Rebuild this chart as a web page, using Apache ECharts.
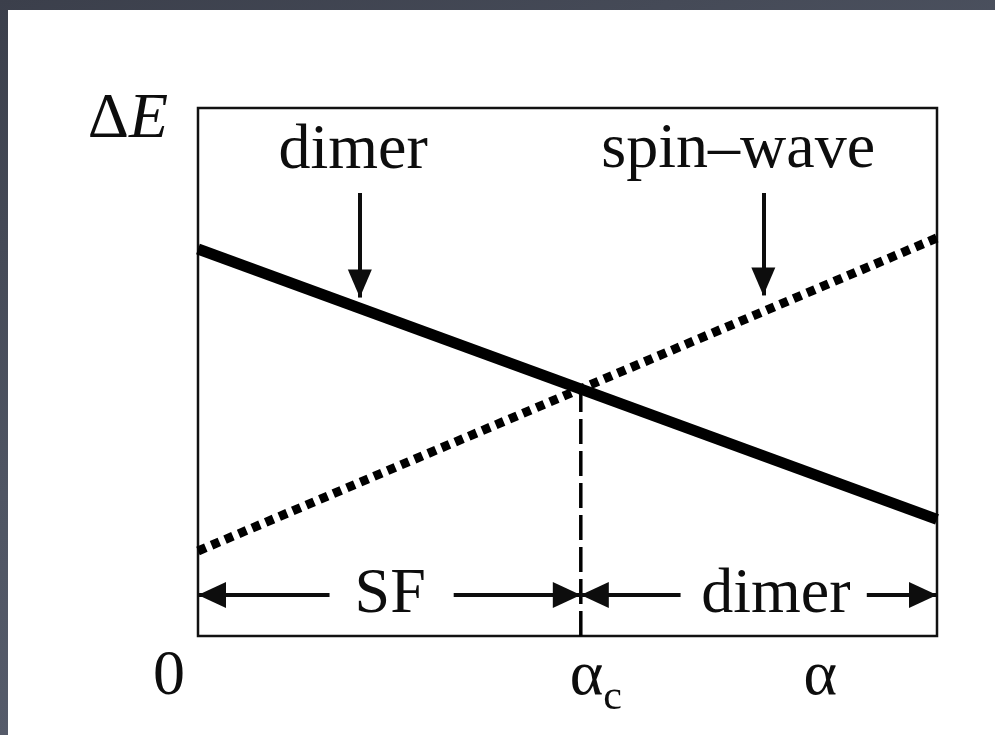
<!DOCTYPE html>
<html>
<head>
<meta charset="utf-8">
<script src="https://cdn.jsdelivr.net/npm/echarts@6/dist/echarts.min.js"></script>
<style>
  html, body { margin: 0; padding: 0; width: 995px; height: 735px; overflow: hidden; }
  body { background: linear-gradient(160deg, #3b3f4b 0%, #4f5563 45%, #5e6474 100%); position: relative; }
  #chart { position: absolute; left: 8px; top: 10px; width: 987px; height: 725px; background: #ffffff; }
</style>
</head>
<body>
<div id="chart"></div>
<script>
// Energy gap versus coupling alpha: dimer branch falls, spin-wave branch rises.
const dimerLine = [[0, 0.733], [1, 0.221]];
const spinWaveLine = [[0, 0.161], [1, 0.754]];

// Critical coupling, where the two branches cross
const alphaC = 0.518;

// Tick labels along the alpha axis
const tickValues = [0, alphaC, 0.842];
const tickLabels = ['0', 'αc', 'α'];

// Branch labels with their pointer arrows (x, label y, arrow top y, arrow tip y)
const branchNames = ['dimer', 'spin–wave'];
const branchLabelX = [0.210, 0.731];
const branchLabelY = [0.919, 0.921];
const branchArrowX = [0.219, 0.765];
const branchArrowTop = [0.839, 0.839];
const branchArrowTip = [0.641, 0.645];

// Phase regions below the curves
const phaseNames = ['SF', 'dimer'];
const phaseCenters = [0.260, 0.782];
const phaseRowY = 0.0775;
const phaseArrowSegments = [[0, 0.178], [0.346, alphaC], [alphaC, 0.653], [0.905, 1]];

// Height of the crossing point at alphaC, taken from the solid branch
function valueAt(line, x) {
  const [p0, p1] = line;
  return p0[1] + (p1[1] - p0[1]) * (x - p0[0]) / (p1[0] - p0[0]);
}
const crossY = valueAt(dimerLine, alphaC);

const serif = 'Liberation Serif, Times New Roman, serif';
const ink = '#0d0d0d';

const tickRich = {
  zero: { fontFamily: serif, fontSize: 64, color: ink, padding: [0, 58, 0, 0] },
  a: { fontFamily: serif, fontSize: 64, color: ink },
  ac: { fontFamily: serif, fontSize: 64, color: ink, padding: [0, 0, 0, 30] },
  sub: { fontFamily: serif, fontSize: 42, color: ink, verticalAlign: 'bottom', padding: [0, 0, -10, 0] }
};

const arrowStyle = { color: ink, width: 4, type: 'solid', opacity: 1 };

const markLines = [];
// pointer arrows from branch labels down to the curves
branchArrowX.forEach((x, i) => {
  markLines.push([
    { coord: [x, branchArrowTop[i]], symbol: 'none' },
    { coord: [x, branchArrowTip[i]], symbol: 'triangle', symbolSize: [24, 28], symbolOffset: [0, 14] }
  ]);
});
// region arrows
phaseArrowSegments.forEach((seg, i) => {
  const tipAtStart = (i % 2 === 0);
  markLines.push([
    { coord: [seg[0], phaseRowY], symbol: tipAtStart ? 'triangle' : 'none', symbolSize: [26, 28], symbolOffset: [0, 14] },
    { coord: [seg[1], phaseRowY], symbol: tipAtStart ? 'none' : 'triangle', symbolSize: [26, 28], symbolOffset: [0, 14] }
  ]);
});

const chart = echarts.init(document.getElementById('chart'), null, { renderer: 'canvas' });

chart.setOption({
  animation: false,
  backgroundColor: '#ffffff',
  grid: {
    left: 190, right: 58, top: 98, bottom: 99,
    show: true, borderColor: '#111', borderWidth: 2.5, backgroundColor: 'transparent'
  },
  xAxis: {
    type: 'value', min: 0, max: 1,
    axisLine: { show: false },
    axisTick: { show: false },
    splitLine: { show: false },
    axisLabel: {
      show: true,
      customValues: tickValues,
      margin: 9,
      formatter: function (v) {
        const i = tickValues.findIndex(t => Math.abs(t - v) < 1e-6);
        if (i === 0) return '{zero|' + tickLabels[0] + '}';
        if (i === 1) return '{ac|' + tickLabels[1][0] + '}{sub|' + tickLabels[1][1] + '}';
        if (i === 2) return '{a|' + tickLabels[2] + '}';
        return '';
      },
      rich: tickRich
    }
  },
  yAxis: {
    type: 'value', min: 0, max: 1,
    axisLine: { show: false },
    axisTick: { show: false },
    splitLine: { show: false },
    axisLabel: { show: false },
    name: '{d|Δ}{e|E}',
    nameLocation: 'end',
    nameGap: -12,
    nameTextStyle: {
      align: 'right',
      verticalAlign: 'middle',
      padding: [0, 30, 0, 0],
      rich: {
        d: { fontFamily: serif, fontSize: 64, color: ink },
        e: { fontFamily: serif, fontSize: 64, color: ink, fontStyle: 'italic' }
      }
    }
  },
  series: [
    {
      name: 'dimer',
      type: 'line',
      data: dimerLine,
      showSymbol: false,
      lineStyle: { color: '#000', width: 11, cap: 'butt' },
      z: 3
    },
    {
      name: 'spin-wave',
      type: 'line',
      data: spinWaveLine,
      showSymbol: false,
      lineStyle: { color: '#000', width: 9, type: [8.5, 6.2], cap: 'butt' },
      z: 3
    },
    {
      name: 'critical',
      type: 'line',
      data: [[alphaC, 0], [alphaC, crossY]],
      showSymbol: false,
      lineStyle: { color: '#000', width: 3.5, type: [25, 7], cap: 'butt' },
      z: 2
    },
    {
      name: 'annotations',
      type: 'scatter',
      symbolSize: 0,
      silent: true,
      itemStyle: { opacity: 1, color: ink },
      data: branchNames.map((n, i) => ({ name: n, value: [branchLabelX[i], branchLabelY[i]] }))
        .concat(phaseNames.map((n, i) => ({ name: n, value: [phaseCenters[i], phaseRowY] }))),
      label: {
        show: true,
        position: 'inside',
        formatter: '{b}',
        fontFamily: serif,
        fontSize: 64,
        color: ink,
        opacity: 1,
        align: 'center',
        verticalAlign: 'middle'
      },
      markLine: {
        silent: true,
        animation: false,
        label: { show: false },
        lineStyle: arrowStyle,
        itemStyle: { color: ink, opacity: 1 },
        emphasis: { disabled: true },
        data: markLines
      },
      z: 4
    }
  ]
});
</script>
</body>
</html>
